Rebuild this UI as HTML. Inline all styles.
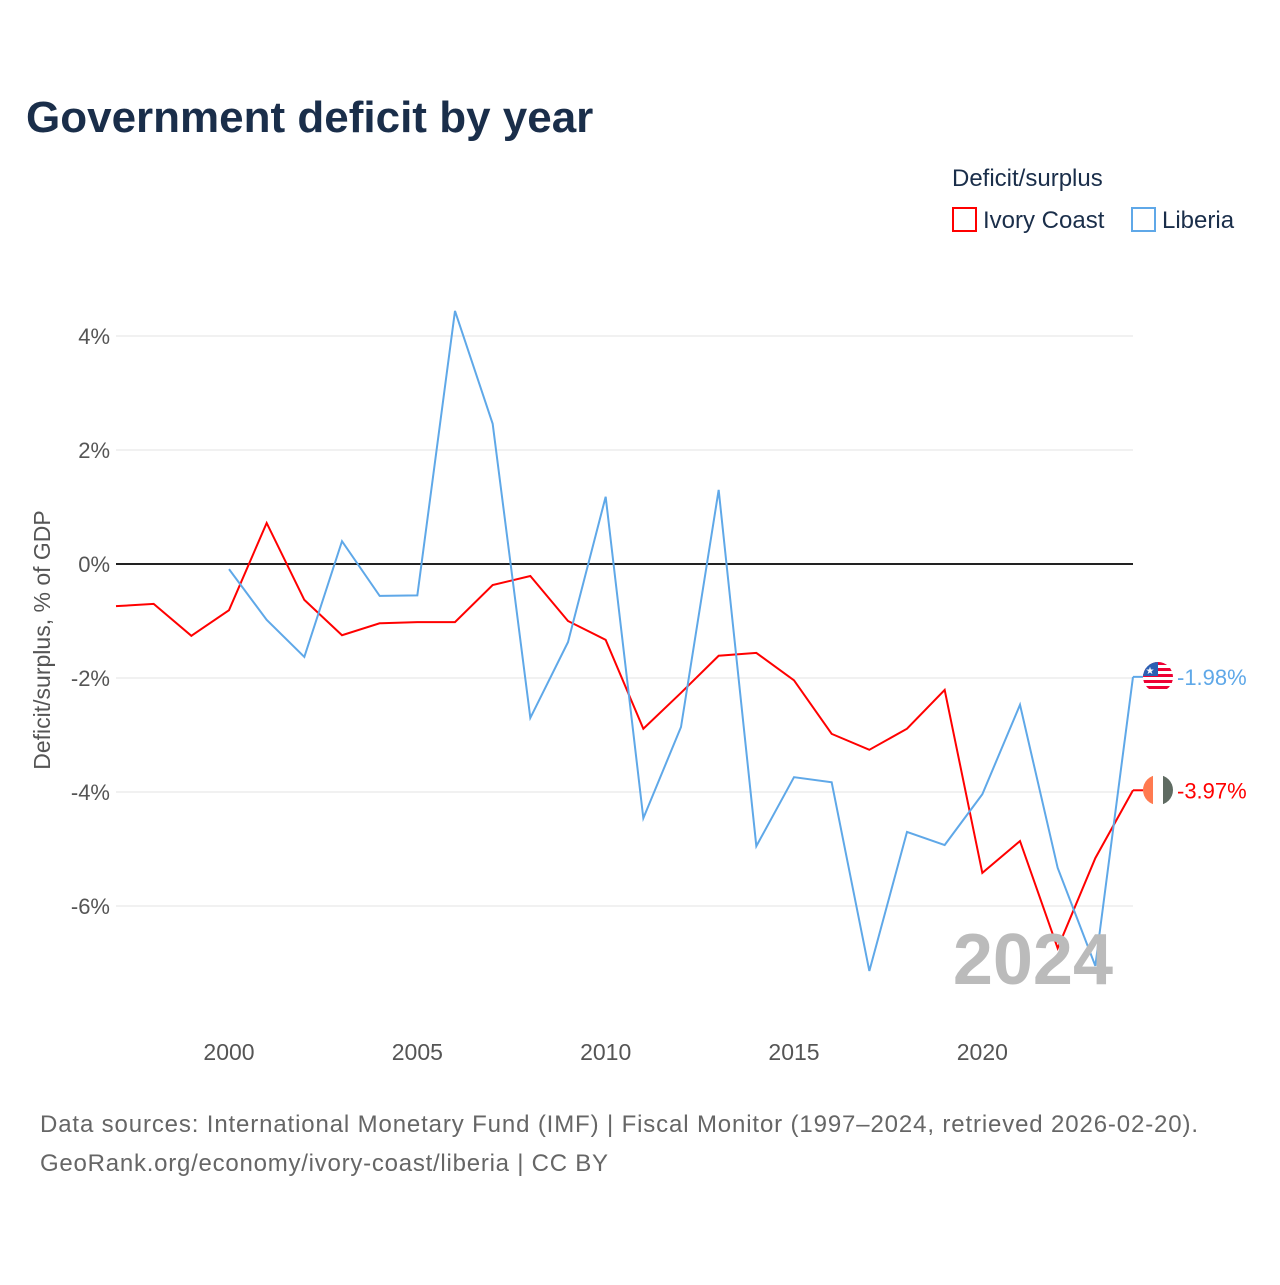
<!DOCTYPE html>
<html><head><meta charset="utf-8"><style>
body{margin:0;background:#fff;font-family:"Liberation Sans",sans-serif;}
</style></head><body>
<svg width="1280" height="1280" xmlns="http://www.w3.org/2000/svg" font-family="Liberation Sans, sans-serif">
<text x="26" y="132" font-size="44" font-weight="bold" fill="#1a2e4a">Government deficit by year</text>
<text x="952" y="186" font-size="24" fill="#1a2e4a">Deficit/surplus</text>
<g><rect x="953" y="208" width="23" height="23" fill="none" stroke="#f00" stroke-width="2"/><text x="983" y="228" font-size="24" fill="#1a2e4a">Ivory Coast</text></g>
<g><rect x="1132" y="208" width="23" height="23" fill="none" stroke="#5fa8e8" stroke-width="2"/><text x="1162" y="228" font-size="24" fill="#1a2e4a">Liberia</text></g>
<defs>
<clipPath id="c1"><circle cx="1158" cy="677" r="15"/></clipPath>
<clipPath id="c2"><circle cx="1158" cy="790" r="15"/></clipPath>
</defs>
<g id="grid"></g><g id="axes"></g><g id="lines"></g>
<g clip-path="url(#c1)">
<rect x="1143" y="662" width="30" height="30" fill="#fff"/>
<rect x="1143" y="662" width="30" height="3" fill="#e03"/><rect x="1143" y="668" width="30" height="3" fill="#e03"/><rect x="1143" y="674" width="30" height="3" fill="#e03"/><rect x="1143" y="680" width="30" height="3" fill="#e03"/><rect x="1143" y="686" width="30" height="3" fill="#e03"/>
<rect x="1143" y="662" width="15" height="14" fill="#2b5fb3"/>
<text x="1150" y="674" font-size="10" fill="#fff" text-anchor="middle">★</text>
</g>
<g clip-path="url(#c2)">
<rect x="1143" y="775" width="10" height="30" fill="#ff7a50"/>
<rect x="1153" y="775" width="10" height="30" fill="#fff"/>
<rect x="1163" y="775" width="10" height="30" fill="#5f6b62"/>
</g>
<text x="1113" y="984" font-size="72" font-weight="bold" fill="#bbb" text-anchor="end">2024</text>
<text transform="translate(50,640) rotate(-90)" font-size="23" fill="#555" text-anchor="middle">Deficit/surplus, % of GDP</text>
<text x="40" y="1132" font-size="24" fill="#666" textLength="1158">Data sources: International Monetary Fund (IMF) | Fiscal Monitor (1997–2024, retrieved 2026-02-20).</text>
<text x="40" y="1171" font-size="24" fill="#666" textLength="568">GeoRank.org/economy/ivory-coast/liberia | CC BY</text>
</svg>
<script>
const years=[1997,1998,1999,2000,2001,2002,2003,2004,2005,2006,2007,2008,2009,2010,2011,2012,2013,2014,2015,2016,2017,2018,2019,2020,2021,2022,2023,2024];
const ivoryCoast=[-0.74,-0.70,-1.26,-0.81,0.72,-0.63,-1.25,-1.04,-1.02,-1.02,-0.37,-0.21,-1.0,-1.33,-2.89,-2.26,-1.61,-1.56,-2.04,-2.98,-3.26,-2.89,-2.21,-5.42,-4.86,-6.74,-5.16,-3.97];
const liberia=[null,null,null,-0.09,-0.98,-1.63,0.40,-0.56,-0.55,4.44,2.46,-2.70,-1.37,1.18,-4.46,-2.86,1.30,-4.95,-3.74,-3.83,-7.14,-4.70,-4.93,-4.04,-2.47,-5.33,-7.05,-1.98];
const yTicks=[4,2,0,-2,-4,-6];
const xTicks=[2000,2005,2010,2015,2020];
const NS="http://www.w3.org/2000/svg";
const xs=y=>116+(y-1997)*(1133-116)/27;
const ys=v=>564-v*57;
function mk(t,a,p){const e=document.createElementNS(NS,t);for(const k in a)e.setAttribute(k,a[k]);p.appendChild(e);return e;}
const grid=document.getElementById('grid'),axes=document.getElementById('axes'),lines=document.getElementById('lines');
yTicks.forEach(v=>{
 const l=mk('line',{x1:116,x2:1133,y1:ys(v),y2:ys(v),stroke:v===0?'#222':'#e3e3e3','stroke-width':v===0?2:1},grid);
 
 
 const t=mk('text',{x:110,y:ys(v)+8,'font-size':22,fill:'#555','text-anchor':'end'},axes);
 t.textContent=v+'%';
 
 
});
xTicks.forEach(y=>{
 const t=mk('text',{x:xs(y),y:1060,'font-size':23,fill:'#555','text-anchor':'middle'},axes);
 t.textContent=y;
 
 
});
function series(vals,color,name){
 let d='';vals.forEach((v,i)=>{if(v==null)return;d+=(d?'L':'M')+xs(years[i])+','+ys(v);});
 const p=mk('path',{d:d,fill:'none',stroke:color,'stroke-width':2},lines);
 
 
 const last=vals[vals.length-1],lx=xs(years[years.length-1]);
 mk('line',{x1:lx,x2:lx+10,y1:ys(last),y2:ys(last),stroke:color,'stroke-width':2},lines);
 const t=mk('text',{x:lx+44,y:ys(last)+8,'font-size':22,fill:color},lines);
 t.textContent=last.toFixed(2)+'%';
 
 
}
series(ivoryCoast,'#f00','ivory-coast');
series(liberia,'#5fa8e8','liberia');
</script>
</body></html>
